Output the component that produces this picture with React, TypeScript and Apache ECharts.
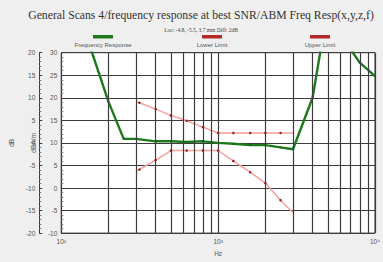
import React, { useEffect, useRef } from "react";
import * as echarts from "echarts";

const respFreq = [125, 160, 200, 250, 300, 400, 500, 630, 800, 1000, 1250, 1600, 2000, 2500, 3000, 4000, 5000, 6300, 8000, 10000];
const respDb = [30, 19.2, 9.1, 0.9, 0.9, 0.35, 0.35, 0.2, 0.35, 0, -0.2, -0.5, -0.5, -1.0, -1.4, 10, 30, 23, 17.8, 14.8];

const limFreq = [300, 315, 400, 500, 630, 800, 1000, 1250, 1600, 2000, 2500, 3000];
const upperDb = [9.1, 8.9, 7.5, 6.1, 4.9, 3.5, 2.2, 2.2, 2.2, 2.2, 2.2, 2.2];
const lowerDb = [-6.3, -5.9, -3.8, -1.7, -1.7, -1.7, -1.7, -4.0, -6.5, -8.9, -12.7, -15.5];

const gridFreqs = [200, 300, 400, 500, 600, 700, 800, 900, 2000, 3000, 4000, 5000, 6000, 7000, 8000, 9000];
const xTickValues = [100, 1000, 10000];
const xTickLabels = ["10²", "10³", "10⁴"];

const legendNames = ["Frequency Response", "Lower Limit", "Upper Limit"];
const legendColors = ["#1c7a1c", "#b02a2a", "#b02a2a"];
const legendCenters = [103, 212, 320];

const titleText = "General Scans 4/frequency response at best SNR/ABM Freq Resp(x,y,z,f)";
const subText = "Loc: -4.8, -5.5, 3.7 mm Diff: 2dB";

export default function App() {
  const ref = useRef<HTMLDivElement>(null);
  useEffect(() => {
    if (!ref.current) return;
    const chart = echarts.init(ref.current, undefined, { renderer: "svg" });
    const pair = (fs: number[], vs: number[]) => fs.map((f, i) => [f, vs[i]]);
    const gridColor = "#3c3c3c";
    const labelStyle = { fontSize: 6.5, color: "#555", fontFamily: "Liberation Sans, Arial, sans-serif" };
    const limitSeries = (name: string, vals: number[]) => ({
      name,
      type: "line",
      yAxisIndex: 1,
      data: pair(limFreq, vals).map((d, i) => ({
        value: d,
        symbolSize: i === 0 || i === limFreq.length - 1 ? 0 : 2.5,
      })),
      symbol: "circle",
      itemStyle: { color: "#9a1c1c" },
      lineStyle: { color: "#f6a0a0", width: 1.5 },
      z: 3,
    });
    const graphics: any[] = [];
    legendNames.forEach((n, i) => {
      graphics.push({
        type: "rect",
        shape: { x: legendCenters[i] - 10, y: 35, width: 20, height: 3.5 },
        style: { fill: legendColors[i] },
      });
      graphics.push({
        type: "text",
        x: legendCenters[i],
        y: 45,
        style: {
          text: n,
          fill: "#555",
          fontSize: 6,
          fontFamily: "Liberation Sans, Arial, sans-serif",
          align: "center",
          verticalAlign: "middle",
        },
      });
    });
    chart.setOption({
      animation: false,
      backgroundColor: "#efefef",
      title: [
        {
          text: titleText,
          left: 196,
          textAlign: "center",
          top: 4,
          textStyle: { fontSize: 11.7, fontWeight: "normal", color: "#333", fontFamily: "Liberation Serif, Times New Roman, serif" },
        },
        {
          text: subText,
          left: 196,
          textAlign: "center",
          top: 22,
          textStyle: { fontSize: 5.5, fontWeight: "normal", color: "#444", fontFamily: "Liberation Serif, Times New Roman, serif" },
        },
      ],
      graphic: graphics,
      grid: { left: 50, right: 7, top: 52.7, bottom: 21.3, show: true, backgroundColor: "#ffffff", borderColor: gridColor, borderWidth: 1 },
      xAxis: {
        type: "log",
        logBase: 10,
        min: 100,
        max: 10000,
        name: "Hz",
        nameLocation: "middle",
        nameGap: 11,
        nameTextStyle: labelStyle,
        axisLine: { show: true, lineStyle: { color: gridColor } },
        axisTick: { show: false },
        axisLabel: {
          ...labelStyle,
          margin: 5,
          formatter: (v: number) => {
            const idx = xTickValues.findIndex((t) => Math.abs(t - v) < 1e-6 * t);
            return idx >= 0 ? xTickLabels[idx] : "";
          },
        },
        splitLine: { show: true, lineStyle: { color: gridColor, width: 1.2 } },
        minorTick: { show: false },
      },
      yAxis: [
        {
          type: "value",
          name: "dBA/m",
          nameLocation: "middle",
          nameRotate: 90,
          nameGap: 15,
          nameTextStyle: labelStyle,
          min: -10,
          max: 30,
          interval: 5,
          position: "left",
          offset: 0,
          axisLine: { show: true, lineStyle: { color: gridColor } },
          axisTick: { show: true, inside: true, length: 3, lineStyle: { color: gridColor } },
          minorTick: { show: true, splitNumber: 5, length: 2, lineStyle: { color: "#777" } },
          axisLabel: { ...labelStyle, margin: 4 },
          splitLine: { show: true, lineStyle: { color: gridColor, width: 1.2 } },
        },
        {
          type: "value",
          name: "dB",
          nameLocation: "middle",
          nameRotate: 90,
          nameGap: 17,
          nameTextStyle: labelStyle,
          min: -20,
          max: 20,
          interval: 5,
          position: "left",
          offset: 22,
          axisLine: { show: true, lineStyle: { color: gridColor } },
          axisTick: { show: true, inside: true, length: 3, lineStyle: { color: gridColor } },
          minorTick: { show: true, splitNumber: 5, length: 2, lineStyle: { color: "#777" } },
          axisLabel: { ...labelStyle, margin: 4 },
          splitLine: { show: false },
        },
      ],
      series: [
        {
          name: "grid",
          type: "line",
          yAxisIndex: 1,
          data: [],
          silent: true,
          markLine: {
            silent: true,
            symbol: ["none", "none"],
            label: { show: false },
            lineStyle: { color: gridColor, width: 1.2, type: "solid" },
            data: gridFreqs.map((f) => ({ xAxis: f })),
          },
          z: 1,
        },
        {
          name: legendNames[0],
          type: "line",
          yAxisIndex: 1,
          data: pair(respFreq, respDb),
          symbol: "circle",
          symbolSize: 1.5,
          itemStyle: { color: "#0f4f0f" },
          lineStyle: { color: "#1c7a1c", width: 2.4 },
          clip: true,
          z: 4,
        },
        limitSeries(legendNames[1], lowerDb),
        limitSeries(legendNames[2], upperDb),
      ],
    });
    return () => chart.dispose();
  }, []);
  return <div ref={ref} style={{ width: 383, height: 262, position: "absolute", left: 0, top: 0 }} />;
}
